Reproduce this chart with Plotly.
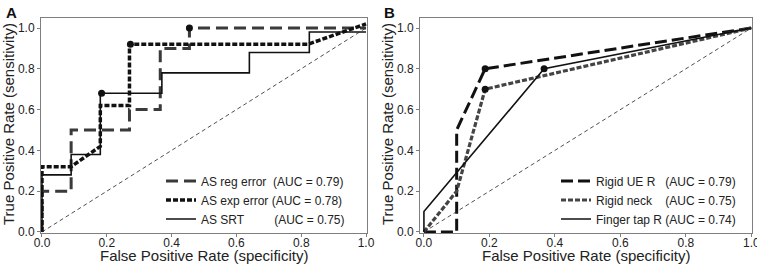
import plotly.graph_objects as go

# ---------------- data ----------------
# Panel A
a_reg_x = [0, 0, 0.09, 0.09, 0.27, 0.27, 0.365, 0.365, 0.455, 0.455, 1.0]
a_reg_y = [0, 0.2, 0.2, 0.5, 0.5, 0.6, 0.6, 0.9, 0.9, 1.0, 1.0]
a_exp_x = [0, 0, 0.09, 0.18, 0.18, 0.27, 0.27, 0.82, 1.0]
a_exp_y = [0, 0.32, 0.32, 0.42, 0.62, 0.62, 0.92, 0.92, 1.02]
a_srt_x = [0, 0, 0.09, 0.09, 0.18, 0.18, 0.37, 0.37, 0.64, 0.64, 0.825, 0.825, 1.0]
a_srt_y = [0, 0.28, 0.28, 0.38, 0.38, 0.68, 0.68, 0.78, 0.78, 0.88, 0.88, 0.98, 0.98]
a_dot_x = [0.455, 0.273, 0.184]
a_dot_y = [1.0, 0.92, 0.68]
a_names = ["AS reg error", "AS exp error", "AS SRT"]
a_auc = [0.79, 0.78, 0.75]

# Panel B
b_ue_x = [0, 0.1, 0.1, 0.187, 1.0]
b_ue_y = [0, 0, 0.5, 0.8, 1.0]
b_neck_x = [0, 0.1, 0.187, 1.0]
b_neck_y = [0, 0.2, 0.7, 1.0]
b_fin_x = [0, 0, 0.367, 1.0]
b_fin_y = [0, 0.1, 0.8, 1.0]
b_dot_x = [0.187, 0.187, 0.367]
b_dot_y = [0.8, 0.7, 0.8]
b_names = ["Rigid UE R", "Rigid neck", "Finger tap R"]
b_auc = [0.79, 0.75, 0.74]

diag = [0, 1]
tick_vals = [0, 0.2, 0.4, 0.6, 0.8, 1.0]
tick_text = ["0.0", "0.2", "0.4", "0.6", "0.8", "1.0"]
x_title = "False Positive Rate (specificity)"
y_title = "True Positive Rate (sensitivity)"
panel_labels = ["A", "B"]

# ---------------- figure ----------------
FONT = "Liberation Sans, Arial, sans-serif"
NB = "\u00a0"
a_pad = [2, 1, 9]
b_pad = [3, 4, 1]

fig = go.Figure()

styles_a = [
    dict(color="#3a3a3a", width=3, dash="12px,6px"),
    dict(color="#111111", width=3.5, dash="5px,2px"),
    dict(color="#111111", width=1.6),
]
styles_b = [
    dict(color="#111111", width=3, dash="12px,5px"),
    dict(color="#444444", width=3.2, dash="5px,2px"),
    dict(color="#111111", width=1.6),
]

for xs, ys, nm, auc, pad, st in zip([a_reg_x, a_exp_x, a_srt_x], [a_reg_y, a_exp_y, a_srt_y],
                                    a_names, a_auc, a_pad, styles_a):
    fig.add_trace(go.Scatter(x=xs, y=ys, mode="lines", line=st,
                             name=f"{nm}{NB * pad}(AUC = {auc:.2f})",
                             xaxis="x", yaxis="y", legend="legend"))
fig.add_trace(go.Scatter(x=diag, y=diag, mode="lines", showlegend=False,
                         line=dict(color="#222222", width=0.8, dash="4px,3px"),
                         xaxis="x", yaxis="y"))
fig.add_trace(go.Scatter(x=a_dot_x, y=a_dot_y, mode="markers", showlegend=False,
                         marker=dict(color="#111111", size=7), cliponaxis=False,
                         xaxis="x", yaxis="y"))

for xs, ys, nm, auc, pad, st in zip([b_ue_x, b_neck_x, b_fin_x], [b_ue_y, b_neck_y, b_fin_y],
                                    b_names, b_auc, b_pad, styles_b):
    fig.add_trace(go.Scatter(x=xs, y=ys, mode="lines", line=st,
                             name=f"{nm}{NB * pad}(AUC = {auc:.2f})",
                             xaxis="x2", yaxis="y2", legend="legend2"))
fig.add_trace(go.Scatter(x=diag, y=diag, mode="lines", showlegend=False,
                         line=dict(color="#222222", width=0.8, dash="4px,3px"),
                         xaxis="x2", yaxis="y2"))
fig.add_trace(go.Scatter(x=b_dot_x, y=b_dot_y, mode="markers", showlegend=False,
                         marker=dict(color="#111111", size=7), cliponaxis=False,
                         xaxis="x2", yaxis="y2"))

W, H = 757, 267
ydom = [(H - 233) / H, (H - 18) / H]

axis_common = dict(
    showgrid=False, zeroline=False, showline=True, linecolor="#7f7f7f", linewidth=1,
    mirror=True, ticks="outside", ticklen=3, tickcolor="#7f7f7f",
    tickvals=tick_vals, ticktext=tick_text, automargin=False,
    ticklabeloverflow="allow",
    tickfont=dict(family=FONT, size=12, color="#222222"),
)

def py(p):
    return (H - p) / H

tfont = dict(family=FONT, size=15, color="#222222")
annotations = [
    dict(text=x_title, x=(41 + 367) / 2 / W, y=py(255), xref="paper", yref="paper",
         xanchor="center", yanchor="middle", showarrow=False, font=tfont),
    dict(text=x_title, x=(420 + 752) / 2 / W, y=py(255), xref="paper", yref="paper",
         xanchor="center", yanchor="middle", showarrow=False, font=tfont),
    dict(text=y_title, x=8 / W, y=py(124), xref="paper", yref="paper", textangle=-90,
         xanchor="center", yanchor="middle", showarrow=False, font=tfont),
    dict(text=y_title, x=387 / W, y=py(124), xref="paper", yref="paper", textangle=-90,
         xanchor="center", yanchor="middle", showarrow=False, font=tfont),
    dict(text=f"<b>{panel_labels[0]}</b>", x=4 / W, y=py(2), xref="paper", yref="paper",
         xanchor="left", yanchor="top", showarrow=False,
         font=dict(family=FONT, size=15, color="#111111")),
    dict(text=f"<b>{panel_labels[1]}</b>", x=382 / W, y=py(2), xref="paper", yref="paper",
         xanchor="left", yanchor="top", showarrow=False,
         font=dict(family=FONT, size=15, color="#111111")),
]

fig.update_layout(
    width=W, height=H,
    margin=dict(l=0, r=0, t=0, b=0),
    paper_bgcolor="white", plot_bgcolor="white",
    font=dict(family=FONT, size=12, color="#222222"),
    xaxis=dict(domain=[41 / W, 367 / W], range=[-0.003, 1.003], anchor="y",
               ticklabelstandoff=-4, **axis_common),
    yaxis=dict(domain=ydom, range=[-0.005, 1.049], anchor="x", **axis_common),
    xaxis2=dict(domain=[420 / W, 752 / W], range=[-0.012, 1.002], anchor="y2",
                ticklabelstandoff=-4, **axis_common),
    yaxis2=dict(domain=ydom, range=[-0.005, 1.049], anchor="x2", **axis_common),
    legend=dict(x=161 / W, y=py(200), xanchor="left", yanchor="middle",
                bgcolor="rgba(0,0,0,0)", itemwidth=30,
                font=dict(family=FONT, size=12, color="#222222")),
    legend2=dict(x=556 / W, y=py(200), xanchor="left", yanchor="middle",
                 bgcolor="rgba(0,0,0,0)", itemwidth=30,
                 font=dict(family=FONT, size=12, color="#222222")),
    annotations=annotations,
    showlegend=True,
)

fig.write_html("out.html", config={"displayModeBar": False},
               post_script="document.body.style.margin='0px';document.body.style.overflow='hidden';")
